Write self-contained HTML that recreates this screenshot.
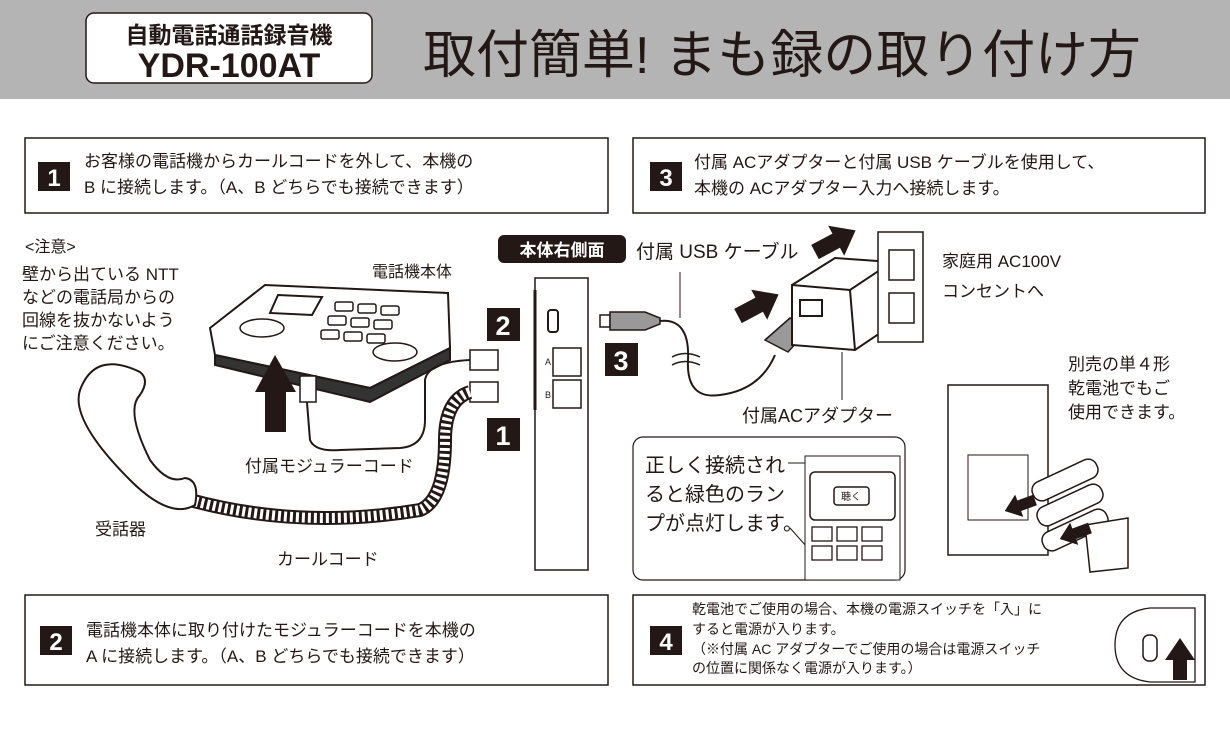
<!DOCTYPE html>
<html><head><meta charset="utf-8"><style>
html,body{margin:0;padding:0;background:#fff;width:1230px;height:729px;overflow:hidden}
svg{display:block}
text{font-family:"Liberation Sans","Noto Sans CJK JP",sans-serif;fill:#231815}
</style></head><body>
<svg width="1230" height="729" viewBox="0 0 1230 729" xmlns="http://www.w3.org/2000/svg">
<defs><path id="arr" d="M0 -8 L24 -8 L24 -17 L46 0 L24 17 L24 8 L0 8 Z" fill="#231815"/></defs>
<!-- header -->
<rect x="0" y="0" width="1230" height="99" fill="#b4b4b4"/>
<rect x="86" y="13" width="286" height="70" rx="8" fill="#fff" stroke="#231815" stroke-width="1.5"/>
<text x="229" y="43" font-size="23" font-weight="bold" text-anchor="middle">自動電話通話録音機</text>
<text x="229" y="77" font-size="34" font-weight="bold" text-anchor="middle">YDR-100AT</text>
<text x="423" y="73" font-size="52" textLength="718" lengthAdjust="spacingAndGlyphs">取付簡単! まも録の取り付け方</text>

<!-- box1 -->
<rect x="25" y="138" width="583" height="75" fill="#fff" stroke="#231815" stroke-width="1.5"/>
<rect x="38" y="162" width="32" height="29" fill="#231815"/>
<text x="54" y="186" font-size="24" font-weight="bold" text-anchor="middle" style="fill:#fff">1</text>
<text x="84" y="167" font-size="17">お客様の電話機からカールコードを外して、本機の</text>
<text x="84" y="193" font-size="17">B に接続します。（A、B どちらでも接続できます）</text>

<!-- box3 -->
<rect x="633" y="138" width="572" height="75" fill="#fff" stroke="#231815" stroke-width="1.5"/>
<rect x="650" y="162" width="32" height="29" fill="#231815"/>
<text x="666" y="186" font-size="24" font-weight="bold" text-anchor="middle" style="fill:#fff">3</text>
<text x="694" y="168" font-size="17">付属 ACアダプターと付属 USB ケーブルを使用して、</text>
<text x="694" y="194" font-size="17">本機の ACアダプター入力へ接続します。</text>

<!-- notes -->
<text x="25" y="252" font-size="16">&lt;注意&gt;</text>
<text x="22" y="280" font-size="17">壁から出ている NTT</text>
<text x="22" y="303" font-size="17">などの電話局からの</text>
<text x="22" y="326" font-size="17">回線を抜かないよう</text>
<text x="22" y="349" font-size="17">にご注意ください。</text>
<text x="372" y="277" font-size="16">電話機本体</text>

<!-- phone body -->
<g transform="translate(0 10)">
<g stroke="#231815" stroke-width="2" fill="#fff">
<path d="M210 318 L265 275 L448 283 L450 338 L370 378 L215 345 Z"/>
<path d="M215 345 L370 378 L450 338 L450 350 L370 392 L215 355 Z" fill="#333"/>
<path d="M278 285 L322 287 L312 305 L270 303 Z"/>
</g>
<g fill="#fff" stroke="#231815" stroke-width="1.5">
<rect x="335" y="292" width="18" height="9" rx="2"/><rect x="358" y="294" width="18" height="9" rx="2"/><rect x="381" y="296" width="18" height="9" rx="2"/>
<rect x="328" y="306" width="18" height="9" rx="2"/><rect x="351" y="308" width="18" height="9" rx="2"/><rect x="374" y="310" width="18" height="9" rx="2"/>
<rect x="321" y="320" width="18" height="9" rx="2"/><rect x="344" y="322" width="18" height="9" rx="2"/><rect x="367" y="324" width="18" height="9" rx="2"/>
<ellipse cx="262" cy="318" rx="22" ry="9"/><ellipse cx="395" cy="342" rx="22" ry="9"/>
</g>
</g>
<!-- up arrow -->
<path d="M255 392 L275 355 L296 392 L286 392 L286 432 L265 432 L265 392 Z" fill="#231815"/>
<!-- modular cord -->
<path d="M306 390 L310 440 Q315 452 340 450 L400 448 Q425 446 425 420 L425 380 Q428 362 470 360" fill="none" stroke="#231815" stroke-width="2"/>
<rect x="300" y="376" width="16" height="26" fill="#fff" stroke="#231815" stroke-width="1.5"/>
<rect x="470" y="350" width="28" height="20" fill="#fff" stroke="#231815" stroke-width="1.5"/>
<rect x="470" y="382" width="28" height="20" fill="#fff" stroke="#231815" stroke-width="1.5"/>
<!-- curl cord -->
<path d="M470 392 Q445 400 445 440 Q445 500 420 510 Q300 530 190 500" fill="none" stroke="#231815" stroke-width="14"/>
<path d="M470 392 Q445 400 445 440 Q445 500 420 510 Q300 530 190 500" fill="none" stroke="#fff" stroke-width="10" stroke-dasharray="3 3"/>
<!-- handset -->
<path d="M80 390 Q95 350 140 372 Q150 380 140 395 Q125 410 150 460 Q168 485 185 478 Q200 480 195 505 Q170 520 130 480 Q70 420 80 390 Z" fill="#fff" stroke="#231815" stroke-width="2"/>
<text x="245" y="472" font-size="17">付属モジュラーコード</text>
<text x="95" y="535" font-size="17">受話器</text>
<text x="277" y="565" font-size="17">カールコード</text>

<!-- badges -->
<rect x="487" y="308" width="33" height="33" fill="#231815"/><text x="503" y="335" font-size="27" font-weight="bold" text-anchor="middle" style="fill:#fff">2</text>
<rect x="487" y="418" width="33" height="33" fill="#231815"/><text x="503" y="445" font-size="27" font-weight="bold" text-anchor="middle" style="fill:#fff">1</text>
<rect x="605" y="343" width="33" height="33" fill="#231815"/><text x="621" y="370" font-size="27" font-weight="bold" text-anchor="middle" style="fill:#fff">3</text>

<!-- side panel -->
<rect x="498" y="235" width="128" height="28" rx="6" fill="#231815"/>
<text x="562" y="256" font-size="17" font-weight="bold" text-anchor="middle" style="fill:#fff">本体右側面</text>
<text x="636" y="258" font-size="19">付属 USB ケーブル</text>
<rect x="535" y="278" width="53" height="292" fill="#fff" stroke="#231815" stroke-width="1.5"/>
<line x1="535" y1="290" x2="535" y2="410" stroke="#231815" stroke-width="3"/>
<rect x="548" y="310" width="10" height="22" rx="3" fill="#fff" stroke="#231815" stroke-width="2"/>
<rect x="553" y="348" width="28" height="28" fill="#fff" stroke="#231815" stroke-width="1.5"/>
<rect x="553" y="380" width="28" height="28" fill="#fff" stroke="#231815" stroke-width="1.5"/>
<text x="545" y="365" font-size="9">A</text><text x="545" y="398" font-size="9">B</text>

<!-- usb cable -->
<rect x="600" y="315" width="10" height="12" fill="#fff" stroke="#231815" stroke-width="1.5"/>
<path d="M610 312 L645 312 L660 318 L660 324 L645 330 L610 330 Z" fill="#999" stroke="#231815" stroke-width="1.5"/>
<path d="M660 321 Q690 318 688 360 Q686 400 720 395 Q760 390 775 355" fill="none" stroke="#231815" stroke-width="2"/>
<line x1="680" y1="272" x2="680" y2="318" stroke="#231815" stroke-width="1"/>
<path d="M672 357 Q685 350 700 357 M672 365 Q685 358 700 365" fill="none" stroke="#231815" stroke-width="1.5"/>
<path d="M765 340 L790 318 L808 330 L788 352 Z" fill="#999" stroke="#231815" stroke-width="1.5"/>
<!-- adapter -->
<path d="M792 285 L835 258 L892 262 L892 325 L855 350 L792 345 Z" fill="#fff" stroke="#231815" stroke-width="2"/>
<path d="M792 285 L850 290 L892 262 M850 290 L855 350" fill="none" stroke="#231815" stroke-width="2"/>
<rect x="800" y="300" width="22" height="16" fill="#fff" stroke="#231815" stroke-width="2"/>
<line x1="842" y1="352" x2="842" y2="400" stroke="#231815" stroke-width="1"/>
<!-- outlet -->
<rect x="878" y="232" width="45" height="110" fill="#fff" stroke="#231815" stroke-width="1.5"/>
<rect x="889" y="250" width="25" height="30" fill="#fff" stroke="#231815" stroke-width="1.5"/>
<rect x="889" y="293" width="25" height="30" fill="#fff" stroke="#231815" stroke-width="1.5"/>
<use href="#arr" transform="translate(815 252) rotate(-28)"/>
<use href="#arr" transform="translate(738 316) rotate(-28)"/>
<text x="942" y="267" font-size="17">家庭用 AC100V</text>
<text x="942" y="297" font-size="17">コンセントへ</text>
<text x="742" y="422" font-size="18">付属ACアダプター</text>

<!-- batteries -->
<text x="1068" y="370" font-size="17">別売の単４形</text>
<text x="1068" y="394" font-size="17">乾電池でもご</text>
<text x="1068" y="418" font-size="17">使用できます。</text>
<rect x="948" y="385" width="100" height="170" fill="#fff" stroke="#231815" stroke-width="1.5"/>
<rect x="968" y="455" width="60" height="65" fill="#fff" stroke="#231815" stroke-width="1"/>
<g fill="#fff" stroke="#231815" stroke-width="1.5">
<rect x="1030" y="470" width="70" height="20" rx="9" transform="rotate(-25 1065 480)"/>
<rect x="1035" y="495" width="70" height="20" rx="9" transform="rotate(-25 1070 505)"/>
<rect x="1040" y="520" width="70" height="20" rx="9" transform="rotate(-25 1075 530)"/>
</g>
<path d="M1085 525 L1128 518 L1128 568 L1090 572 Z" fill="#fff" stroke="#231815" stroke-width="1.5"/>
<use href="#arr" transform="translate(1035 500) rotate(160) scale(0.7)"/>
<use href="#arr" transform="translate(1090 528) rotate(160) scale(0.7)"/>

<!-- lamp box -->
<rect x="633" y="437" width="272" height="143" rx="10" fill="#fff" stroke="#231815" stroke-width="1.2"/>
<text x="645" y="472" font-size="20">正しく接続され</text>
<text x="645" y="501" font-size="20">ると緑色のラン</text>
<text x="645" y="530" font-size="20">プが点灯します。</text>
<line x1="788" y1="463" x2="812" y2="463" stroke="#231815" stroke-width="1"/>
<line x1="790" y1="528" x2="815" y2="556" stroke="#231815" stroke-width="1"/>
<rect x="805" y="456" width="95" height="124" fill="#fff" stroke="#231815" stroke-width="1"/>
<rect x="810" y="472" width="85" height="48" rx="5" fill="#fff" stroke="#231815" stroke-width="1.5"/>
<rect x="834" y="487" width="35" height="18" rx="3" fill="#fff" stroke="#231815" stroke-width="1.5"/>
<text x="851" y="500" font-size="10" text-anchor="middle">聴く</text>
<g fill="#fff" stroke="#231815" stroke-width="1.3">
<rect x="812" y="527" width="20" height="14"/><rect x="837" y="527" width="20" height="14"/><rect x="862" y="527" width="20" height="14"/>
<rect x="812" y="546" width="20" height="14"/><rect x="837" y="546" width="20" height="14"/><rect x="862" y="546" width="20" height="14"/>
</g>

<!-- box2 -->
<rect x="25" y="595" width="583" height="90" fill="#fff" stroke="#231815" stroke-width="1.5"/>
<rect x="40" y="626" width="32" height="29" fill="#231815"/>
<text x="56" y="650" font-size="24" font-weight="bold" text-anchor="middle" style="fill:#fff">2</text>
<text x="86" y="636" font-size="17">電話機本体に取り付けたモジュラーコードを本機の</text>
<text x="86" y="662" font-size="17">A に接続します。（A、B どちらでも接続できます）</text>

<!-- box4 -->
<rect x="633" y="595" width="572" height="90" fill="#fff" stroke="#231815" stroke-width="1.5"/>
<rect x="650" y="626" width="32" height="29" fill="#231815"/>
<text x="666" y="650" font-size="24" font-weight="bold" text-anchor="middle" style="fill:#fff">4</text>
<text x="692" y="614" font-size="14">乾電池でご使用の場合、本機の電源スイッチを「入」に</text>
<text x="692" y="634" font-size="14">すると電源が入ります。</text>
<text x="692" y="654" font-size="14">（※付属 AC アダプターでご使用の場合は電源スイッチ</text>
<text x="692" y="673" font-size="14">の位置に関係なく電源が入ります。）</text>
<path d="M1150 608 Q1115 612 1115 645 Q1115 678 1150 682 L1195 682 L1195 608 Z" fill="#fff" stroke="#231815" stroke-width="1.3"/>
<rect x="1143" y="635" width="14" height="26" rx="6" fill="#fff" stroke="#231815" stroke-width="1.5"/>
<path d="M1165 660 L1180 638 L1195 660 L1187 660 L1187 680 L1173 680 L1173 660 Z" fill="#231815"/>
</svg>
</body></html>
